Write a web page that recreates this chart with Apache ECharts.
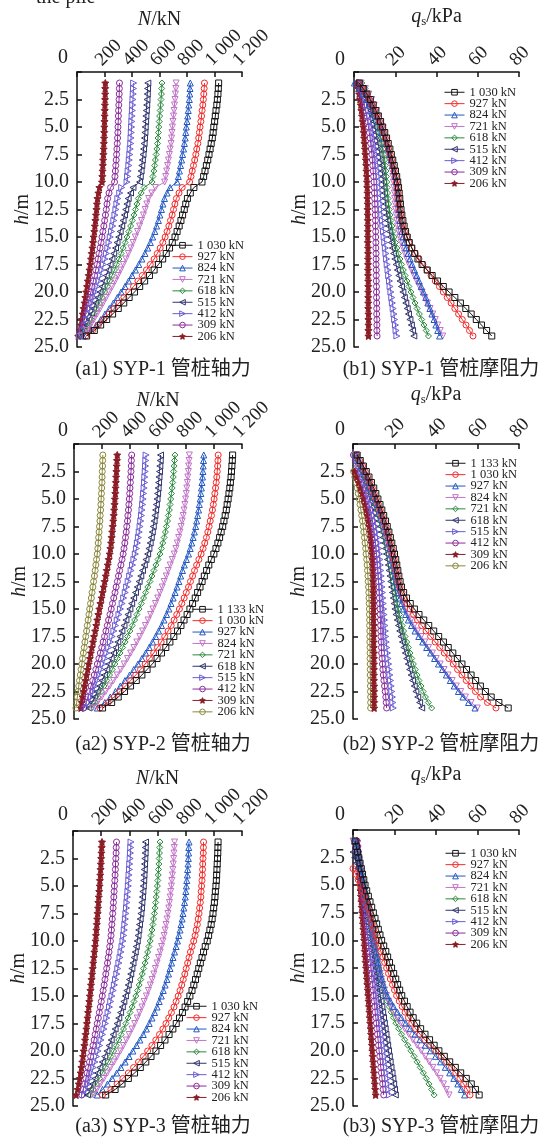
<!DOCTYPE html>
<html><head><meta charset="utf-8">
<script src="https://cdn.jsdelivr.net/npm/echarts@6/dist/echarts.min.js"></script>
<style>html,body{margin:0;padding:0;background:#fff}#c{width:560px;height:1139px}</style>
</head><body><div id="c"></div>
<script>
// depth h (m)
const H = [1,1.5,2,2.5,3,3.5,4,4.5,5,5.5,6,6.5,7,7.5,8,8.5,9,9.5,10,10.5,11,11.5,12,12.5,13,13.5,14,14.5,15,15.5,16,16.5,17,17.5,18,18.5,19,19.5,20,20.5,21,21.5,22,22.5,23,23.5,24];

// ---- axial force N (kN) ----
const A1_1030 = [1030,1028,1025,1021,1017,1011,1006,1001,995,990,984,976,968,960,951,941,931,921,909,850,824,803,791,780,768,756,743,728,713,693,673,649,623,592,561,527,492,456,418,379,340,300,259,216,172,126,70];
const A1_927 = [927,925,922,919,915,910,906,901,895,890,885,879,871,864,856,847,838,829,819,765,742,723,712,702,692,680,668,655,641,624,605,584,561,533,505,475,443,411,376,341,306,270,233,195,155,113,63];
const A1_824 = [824,822,820,817,813,809,805,800,795,791,787,781,775,768,761,753,745,737,728,677,655,636,625,614,603,592,579,566,550,533,514,494,472,449,425,400,375,349,321,293,265,235,204,173,140,103,45];
const A1_721 = [721,719,716,713,709,706,702,698,694,691,688,684,678,672,665,659,652,645,637,570,544,521,508,496,483,469,455,440,424,408,392,374,356,337,318,298,278,257,235,213,191,169,146,123,100,72,32];
const A1_618 = [618,616,614,611,608,605,601,598,595,592,589,586,581,576,570,565,559,552,546,488,467,446,436,425,414,402,390,377,363,350,336,321,305,289,273,255,238,220,201,183,164,145,125,106,85,62,28];
const A1_515 = [515,513,511,509,507,504,501,499,496,494,491,488,484,480,475,471,466,460,455,407,389,372,363,354,345,335,325,314,303,291,280,267,254,241,227,213,198,183,168,152,136,121,105,88,71,52,23];
const A1_412 = [412,411,409,407,405,403,401,399,397,395,393,391,387,384,380,377,372,368,364,325,311,297,290,283,276,268,260,251,242,233,224,214,204,193,182,170,159,147,134,122,109,96,84,70,57,41,18];
const A1_309 = [309,308,307,306,304,302,301,300,298,297,295,293,290,288,285,282,279,276,273,244,233,223,218,213,207,201,195,188,182,175,168,160,153,145,136,128,119,110,101,91,82,72,63,53,43,31,14];
const A1_206 = [206,205,205,204,203,202,201,200,199,198,197,195,194,192,190,188,186,184,182,163,156,149,145,142,138,134,130,126,121,117,112,107,102,96,91,85,79,73,67,61,55,48,42,35,28,21,9];

const A2_1133 = [1133,1131,1128,1125,1122,1117,1113,1107,1101,1094,1088,1080,1071,1062,1051,1040,1028,1014,999,981,963,947,931,915,900,883,866,847,828,808,786,764,739,713,685,656,625,593,559,522,485,445,404,361,316,269,204];
const A2_1030 = [1030,1028,1026,1023,1020,1016,1011,1006,1001,995,989,982,973,965,956,946,934,922,908,892,876,861,847,832,818,802,787,770,753,734,715,694,672,648,623,596,569,539,508,475,441,405,368,329,287,244,185];
const A2_927 = [927,925,923,921,918,914,910,906,901,895,890,883,876,869,860,851,841,830,818,803,788,775,762,749,736,722,708,693,678,661,643,625,604,583,561,537,512,485,457,427,397,364,331,296,259,220,167];
const A2_824 = [824,822,819,817,813,810,806,802,797,792,786,780,773,765,757,748,738,728,716,702,687,673,659,644,630,614,598,582,564,547,529,510,490,470,449,428,405,382,358,334,308,282,255,227,198,168,132];
const A2_721 = [721,718,715,712,709,705,701,696,691,686,681,674,668,660,653,644,634,624,614,600,585,571,557,542,527,512,497,481,465,449,433,416,399,382,365,347,329,311,292,273,254,234,214,194,173,152,123];
const A2_618 = [618,616,613,611,607,604,601,597,593,588,583,578,572,566,559,552,544,535,526,514,502,489,477,465,452,439,426,412,399,385,371,357,342,328,313,297,282,266,250,234,218,201,184,166,148,130,105];
const A2_515 = [515,513,511,509,506,504,501,497,494,490,486,482,477,472,466,460,453,446,438,428,418,408,398,387,376,366,355,344,332,321,309,297,285,273,261,248,235,222,209,195,181,167,153,139,124,109,88];
const A2_412 = [412,410,409,407,405,403,400,398,395,392,389,385,382,377,373,368,363,357,351,343,335,326,318,310,301,293,284,275,266,257,247,238,228,218,208,198,188,178,167,156,145,134,122,111,99,87,70];
const A2_309 = [309,307,305,303,301,299,297,295,292,290,287,284,281,277,273,269,265,260,255,248,241,234,227,219,212,204,197,189,181,174,166,159,151,143,136,128,120,113,105,98,90,83,76,69,62,56,50];
const A2_206 = [206,205,204,202,201,200,198,196,194,192,190,187,185,182,179,176,173,170,166,161,156,151,146,140,135,129,124,118,112,107,101,95,90,84,78,73,67,61,56,50,45,39,34,29,24,19,14];

const A3_1030 = [1030,1029,1028,1026,1024,1022,1020,1018,1015,1011,1008,1004,999,994,988,981,972,963,953,939,927,916,904,893,882,870,858,845,830,814,796,777,756,733,709,682,653,622,589,554,517,478,437,393,348,299,232];
const A3_927 = [927,926,925,923,921,920,918,916,913,910,908,904,899,895,889,883,875,867,857,845,834,824,814,804,794,783,772,760,747,732,717,699,680,660,638,614,588,560,530,499,465,430,393,354,313,269,209];
const A3_824 = [824,822,821,819,817,814,812,808,805,801,797,792,787,781,775,767,760,751,742,732,721,710,700,689,678,667,654,641,627,612,597,579,561,541,521,499,475,451,425,398,370,340,310,278,245,210,173];
const A3_721 = [721,719,717,715,712,709,706,702,699,694,690,685,680,674,668,661,654,647,639,629,619,608,597,585,574,562,549,535,521,505,490,473,456,438,419,399,379,358,337,314,291,267,244,219,195,170,144];
const A3_618 = [618,616,614,612,610,607,605,602,599,595,591,587,583,578,572,567,561,554,548,539,530,521,512,502,492,481,470,459,446,433,420,405,391,375,359,342,325,307,289,269,250,229,209,188,167,146,124];
const A3_515 = [515,513,512,510,508,506,504,502,499,496,493,489,486,482,477,472,467,462,456,449,442,434,426,418,410,401,392,382,372,361,350,338,325,313,299,285,271,256,241,225,208,191,174,157,139,122,103];
const A3_412 = [412,410,408,406,403,401,398,396,393,390,386,383,380,376,372,368,364,360,355,348,341,334,326,318,311,302,294,286,277,268,259,249,240,230,220,210,199,189,178,167,156,144,133,121,109,96,82];
const A3_309 = [309,307,306,304,302,301,299,297,294,292,290,287,285,282,279,276,273,270,266,261,256,250,245,239,233,227,221,214,208,201,194,187,180,172,165,157,150,142,133,125,117,108,99,91,82,72,62];
const A3_206 = [206,204,202,200,198,196,194,191,189,186,183,180,178,175,172,169,166,163,160,156,152,148,144,140,136,132,128,124,120,116,112,107,103,99,95,90,86,81,76,71,66,60,54,48,41,33,22];

// ---- skin friction qs (kPa) ----
const B1_1030 = [2.5,4.5,6.3,7.9,9.3,10.6,11.8,12.9,13.9,14.9,15.8,16.6,17.4,18.1,18.8,19.5,20.1,20.7,21.2,21.6,21.9,22.2,22.5,22.8,23.2,23.7,24.3,25.0,25.8,26.8,28.0,29.4,31.0,33.0,35.5,37.9,40.5,43.3,46.1,48.9,51.6,54.2,56.8,59.3,61.8,64.3,66.8];
const B1_927 = [2.2,4.1,5.8,7.3,8.7,10.0,11.2,12.3,13.3,14.3,15.2,16.0,16.8,17.5,18.2,18.9,19.5,20.1,20.6,21.0,21.3,21.6,21.9,22.2,22.6,23.1,23.7,24.5,25.5,26.7,28.1,29.7,31.5,33.4,35.4,37.4,39.4,41.4,43.3,45.2,47.1,48.9,50.7,52.5,54.3,56.0,57.7];
const B1_824 = [0.2,2.5,4.4,6.1,7.6,9.0,10.2,11.4,12.5,13.5,14.5,15.4,16.3,17.1,17.9,18.6,19.3,19.9,20.5,20.9,21.2,21.4,21.6,21.8,22.0,22.3,22.7,23.2,23.8,24.5,25.3,26.2,27.2,28.2,29.3,30.4,31.5,32.6,33.7,34.8,35.8,36.8,37.8,38.8,39.7,40.6,41.5];
const B1_721 = [3.5,5.5,7.2,8.6,9.8,10.9,11.9,12.8,13.6,14.4,15.1,15.8,16.4,17.0,17.5,18.0,18.4,18.8,19.1,19.3,19.5,19.7,19.9,20.1,20.4,20.7,21.1,21.6,22.2,22.9,23.7,24.6,25.6,26.7,27.9,29.1,30.4,31.7,33.0,34.3,35.6,36.9,38.2,39.4,40.6,41.8,43.0];
const B1_618 = [3.8,5.4,6.7,7.8,8.8,9.7,10.5,11.2,11.9,12.5,13.1,13.6,14.1,14.5,14.9,15.2,15.5,15.7,15.9,16.1,16.3,16.5,16.8,17.1,17.5,17.9,18.4,18.9,19.5,20.1,20.8,21.5,22.3,23.1,23.9,24.8,25.7,26.6,27.6,28.6,29.6,30.6,31.7,32.8,33.9,35.0,36.1];
const B1_515 = [2.8,4.2,5.4,6.4,7.3,8.1,8.8,9.5,10.1,10.7,11.2,11.7,12.2,12.6,13.0,13.4,13.7,14.0,14.3,14.5,14.8,15.0,15.3,15.6,15.9,16.3,16.7,17.1,17.6,18.1,18.6,19.2,19.8,20.4,21.0,21.7,22.3,23.0,23.7,24.4,25.1,25.8,26.4,27.1,27.8,28.4,29.0];
const B1_412 = [2.5,3.7,4.7,5.6,6.4,7.1,7.7,8.3,8.8,9.3,9.7,10.1,10.5,10.9,11.2,11.5,11.8,12.1,12.3,12.5,12.7,12.9,13.1,13.3,13.5,13.8,14.0,14.3,14.6,14.9,15.2,15.5,15.8,16.1,16.5,16.8,17.2,17.5,17.9,18.3,18.6,19.0,19.4,19.7,20.1,20.4,20.8];
const B1_309 = [2.0,2.9,3.7,4.4,5.0,5.6,6.1,6.6,7.0,7.4,7.8,8.1,8.4,8.7,8.9,9.1,9.3,9.5,9.7,9.8,9.9,10.0,10.1,10.2,10.3,10.4,10.4,10.5,10.5,10.6,10.6,10.7,10.7,10.7,10.8,10.8,10.8,10.9,10.9,10.9,11.0,11.0,11.0,11.1,11.1,11.1,11.2];
const B1_206 = [1.5,2.0,2.5,2.9,3.3,3.6,3.9,4.2,4.5,4.7,4.9,5.1,5.3,5.5,5.7,5.9,6.0,6.2,6.3,6.4,6.5,6.5,6.6,6.6,6.6,6.7,6.7,6.7,6.7,6.7,6.8,6.8,6.8,6.8,6.8,6.8,6.9,6.9,6.9,6.9,6.9,6.9,7.0,7.0,7.0,7.0,7.0];

const B2_1133 = [2.0,3.5,5.0,6.4,7.7,8.9,10.0,11.0,12.0,13.0,13.9,14.8,15.7,16.5,17.3,18.0,18.7,19.4,20.0,20.6,21.1,21.6,22.1,22.7,23.4,24.4,25.8,27.6,29.6,31.8,34.1,36.5,38.9,41.3,43.6,45.9,48.1,50.3,52.5,54.7,56.9,59.1,61.4,63.8,66.6,70.3,74.8];
const B2_1030 = [1.8,3.2,4.6,5.9,7.1,8.2,9.3,10.3,11.3,12.3,13.2,14.1,15.0,15.8,16.6,17.3,18.0,18.7,19.3,19.9,20.4,20.9,21.4,22.0,22.7,23.6,24.7,26.0,27.5,29.2,31.1,33.1,35.2,37.4,39.6,41.8,44.0,46.2,48.3,50.4,52.5,54.6,56.8,59.0,61.5,64.8,68.9];
const B2_927 = [1.5,2.8,4.1,5.3,6.5,7.6,8.7,9.7,10.7,11.7,12.6,13.5,14.3,15.1,15.9,16.6,17.3,17.9,18.5,19.0,19.5,19.9,20.3,20.8,21.3,21.9,22.6,23.4,24.3,25.4,26.7,28.2,29.9,31.7,33.6,35.5,37.4,39.3,41.2,43.1,45.0,46.9,48.8,50.8,53.0,55.7,58.8];
const B2_824 = [1.3,2.6,3.9,5.1,6.2,7.3,8.3,9.3,10.3,11.2,12.1,12.9,13.7,14.5,15.2,15.9,16.6,17.2,17.8,18.4,19.0,19.6,20.2,20.9,21.6,22.4,23.3,24.3,25.4,26.6,28.0,29.5,31.1,32.8,34.6,36.4,38.3,40.1,42.0,43.9,45.8,47.8,49.8,51.9,54.2,56.9,59.9];
const B2_721 = [1.2,2.4,3.6,4.7,5.8,6.9,7.9,8.9,9.8,10.7,11.6,12.4,13.2,14.0,14.7,15.4,16.0,16.6,17.2,17.7,18.2,18.7,19.1,19.5,19.9,20.3,20.8,21.3,21.8,22.4,23.0,23.7,24.4,25.1,25.9,26.7,27.5,28.3,29.1,30.0,30.9,31.8,32.8,33.8,34.9,36.3,37.9];
const B2_618 = [1.1,2.2,3.3,4.4,5.4,6.4,7.4,8.3,9.2,10.1,10.9,11.7,12.5,13.2,13.9,14.5,15.1,15.6,16.1,16.6,17.0,17.4,17.8,18.2,18.6,19.0,19.4,19.8,20.2,20.7,21.3,21.9,22.5,23.1,23.8,24.5,25.2,25.9,26.6,27.3,28.0,28.7,29.5,30.3,31.2,32.1,33.1];
const B2_515 = [1.0,2.0,3.0,4.0,4.9,5.8,6.6,7.4,8.1,8.8,9.4,10.0,10.5,11.0,11.4,11.8,12.2,12.5,12.8,13.0,13.2,13.4,13.6,13.8,14.0,14.2,14.4,14.6,14.8,15.0,15.2,15.4,15.6,15.8,16.0,16.3,16.6,16.9,17.2,17.5,17.8,18.1,18.4,18.7,19.0,19.2,19.4];
const B2_412 = [0.2,1.3,2.3,3.3,4.2,5.0,5.8,6.5,7.2,7.8,8.4,8.9,9.4,9.8,10.2,10.5,10.8,11.1,11.3,11.5,11.7,11.9,12.1,12.3,12.5,12.6,12.7,12.8,13.0,13.1,13.2,13.3,13.4,13.5,13.6,13.7,13.8,14.0,14.2,14.4,14.6,14.9,15.2,15.5,15.8,16.0,16.2];
const B2_309 = [null,null,null,0.8,1.8,2.7,3.6,4.4,5.1,5.8,6.4,6.9,7.4,7.8,8.2,8.5,8.8,9.0,9.2,9.4,9.5,9.6,9.7,9.7,9.8,9.8,9.8,9.9,9.9,9.9,9.9,10.0,10.0,10.0,10.0,10.0,10.1,10.1,10.1,10.1,10.1,10.1,10.2,10.2,10.2,10.2,10.2];
const B2_206 = [null,null,null,0.3,0.9,1.5,2.0,2.5,3.0,3.4,3.8,4.2,4.6,4.9,5.2,5.5,5.8,6.1,6.3,6.6,6.8,7.0,7.2,7.3,7.5,7.6,7.7,7.8,7.9,7.9,8.0,8.0,8.1,8.1,8.1,8.2,8.2,8.2,8.3,8.3,8.3,8.4,8.4,8.4,8.5,8.5,8.5];

const B3_1030 = [1.0,1.6,2.2,2.8,3.4,4.0,4.6,5.2,5.8,6.6,7.4,8.2,9.0,9.8,10.6,11.4,12.2,13.0,13.8,14.8,15.8,16.7,17.6,18.6,19.6,20.6,21.5,22.5,23.5,24.8,26.1,27.5,29.0,30.7,32.6,34.7,36.9,39.1,41.4,44.0,46.6,49.3,51.9,54.6,57.0,59.0,60.8];
const B3_927 = [null,null,null,null,null,0.0,1.3,2.5,3.6,4.6,5.5,6.3,7.1,7.9,8.6,9.3,10.0,10.7,11.4,12.4,13.4,14.4,15.3,16.2,17.1,18.0,19.0,20.0,21.0,22.3,23.7,25.1,26.7,28.3,30.2,32.3,34.6,37.4,40.0,42.6,45.1,47.5,49.5,51.5,53.3,55.0,56.4];
const B3_824 = [0.8,1.4,2.0,2.5,3.1,3.6,4.1,4.6,5.2,5.7,6.2,6.7,7.2,7.7,8.2,8.7,9.2,9.6,10.1,10.6,11.1,11.6,12.1,12.6,13.2,13.9,14.6,15.5,16.5,18.0,19.6,21.4,23.3,25.4,27.6,29.9,32.3,34.8,37.3,39.8,42.2,44.5,46.6,48.6,50.5,52.2,53.8];
const B3_721 = [0.0,0.8,1.5,2.2,2.9,3.5,4.1,4.7,5.3,5.8,6.3,6.8,7.3,7.8,8.3,8.8,9.2,9.7,10.1,10.6,11.0,11.5,12.0,12.5,13.1,13.7,14.4,15.2,16.1,17.1,18.2,19.6,21.2,23.0,24.9,26.9,28.9,30.9,32.9,34.8,36.7,38.5,40.3,42.0,43.6,45.0,46.3];
const B3_618 = [0.5,1.2,1.9,2.6,3.2,3.8,4.4,5.0,5.5,6.0,6.5,7.0,7.5,8.0,8.5,8.9,9.4,9.8,10.3,10.7,11.2,11.6,12.1,12.6,13.1,13.7,14.3,15.0,15.7,16.5,17.4,18.4,19.5,20.7,22.0,23.4,24.9,26.4,27.9,29.4,30.9,32.4,33.9,35.3,36.6,37.9,39.1];
const B3_515 = [null,null,0.0,0.8,1.5,2.2,2.9,3.5,4.1,4.7,5.3,5.8,6.3,6.8,7.3,7.8,8.2,8.7,9.1,9.5,9.9,10.3,10.7,11.1,11.5,11.9,12.3,12.7,13.1,13.5,13.9,14.3,14.7,15.1,15.5,15.9,16.3,16.7,17.1,17.5,17.9,18.3,18.8,19.2,19.6,20.0,20.4];
const B3_412 = [1.2,1.7,2.2,2.7,3.2,3.7,4.1,4.6,5.0,5.4,5.8,6.2,6.6,7.0,7.4,7.8,8.1,8.5,8.9,9.2,9.6,9.9,10.3,10.6,10.9,11.3,11.6,11.9,12.2,12.5,12.8,13.1,13.4,13.7,14.0,14.3,14.6,14.9,15.2,15.5,15.8,16.1,16.4,16.7,17.0,17.3,17.6];
const B3_309 = [2.0,2.3,2.6,2.9,3.2,3.5,3.8,4.1,4.4,4.7,5.0,5.3,5.6,5.9,6.2,6.4,6.7,7.0,7.3,7.5,7.8,8.1,8.3,8.6,8.9,9.1,9.4,9.7,9.9,10.2,10.5,10.7,11.0,11.3,11.5,11.8,12.1,12.3,12.6,12.9,13.2,13.4,13.7,14.0,14.3,14.5,14.8];
const B3_206 = [1.8,2.1,2.3,2.5,2.7,2.9,3.1,3.2,3.4,3.6,3.8,4.0,4.2,4.4,4.6,4.8,5.0,5.2,5.4,5.5,5.7,5.9,6.1,6.3,6.5,6.7,6.9,7.1,7.3,7.5,7.7,7.9,8.1,8.3,8.5,8.7,8.9,9.1,9.3,9.5,9.7,9.9,10.1,10.3,10.5,10.7,10.9];

// legend labels
const LOADS9 = ['1 030 kN','927 kN','824 kN','721 kN','618 kN','515 kN','412 kN','309 kN','206 kN'];
const LOADS10 = ['1 133 kN','1 030 kN','927 kN','824 kN','721 kN','618 kN','515 kN','412 kN','309 kN','206 kN'];
// axis tick labels
const N_TICKS = [0,200,400,600,800,1000,1200];
const Q_TICKS = [0,20,40,60,80];
const H_TICKS = [0,2.5,5,7.5,10,12.5,15,17.5,20,22.5,25];
const CAPTIONS = ['(a1) SYP-1 管桩轴力','(b1) SYP-1 管桩摩阻力','(a2) SYP-2 管桩轴力','(b2) SYP-2 管桩摩阻力','(a3) SYP-3 管桩轴力','(b3) SYP-3 管桩摩阻力'];

const FONT = "'Liberation Serif','Times New Roman','Noto Sans CJK SC',serif";
const STAR = 'path://M0,-10L2.9,-4L9.5,-3.1L4.7,1.5L5.9,8.1L0,5L-5.9,8.1L-4.7,1.5L-9.5,-3.1L-2.9,-4Z';
const ST = {
  sq:  {symbol:'rect', c:'#151515'},
  ciR: {symbol:'circle', c:'#f42a2a'},
  tri: {symbol:'triangle', c:'#2358c4'},
  dtri:{symbol:'triangle', rot:180, c:'#c274c8'},
  dia: {symbol:'diamond', c:'#2b8a3e'},
  ltri:{symbol:'triangle', rot:90, c:'#30346e'},
  rtri:{symbol:'triangle', rot:-90, c:'#6a5cd2'},
  ciP: {symbol:'circle', c:'#8c2c9c'},
  star:{symbol:STAR, c:'#8b1c26', fill:true},
  ciO: {symbol:'circle', c:'#8a883a'}
};
const S9 = ['sq','ciR','tri','dtri','dia','ltri','rtri','ciP','star'];
const S10 = ['sq','ciR','tri','dtri','dia','ltri','rtri','ciP','star','ciO'];

const PANELS = [
  {id:'a1', kind:'N', grid:{left:77,top:72,width:165,height:275}, names:LOADS9, sty:S9, legend:{left:172,top:239}, nameGap:42,
   vals:[A1_1030,A1_927,A1_824,A1_721,A1_618,A1_515,A1_412,A1_309,A1_206], zero:[63,58], cap:[163,370]},
  {id:'b1', kind:'Q', grid:{left:354,top:72,width:165,height:275}, names:LOADS9, sty:S9, legend:{left:444,top:86}, nameGap:44,
   vals:[B1_1030,B1_927,B1_824,B1_721,B1_618,B1_515,B1_412,B1_309,B1_206], zero:[340,60], cap:[441,370]},
  {id:'a2', kind:'N', grid:{left:74,top:444,width:168,height:275}, names:LOADS10, sty:S10, legend:{left:192,top:603}, nameGap:33,
   vals:[A2_1133,A2_1030,A2_927,A2_824,A2_721,A2_618,A2_515,A2_412,A2_309,A2_206], zero:[63,431], cap:[163,745]},
  {id:'b2', kind:'Q', grid:{left:353,top:444,width:166,height:275}, names:LOADS10, sty:S10, legend:{left:445,top:457}, nameGap:38,
   vals:[B2_1133,B2_1030,B2_927,B2_824,B2_721,B2_618,B2_515,B2_412,B2_309,B2_206], zero:[340,430], cap:[441,745]},
  {id:'a3', kind:'N', grid:{left:73,top:831,width:169,height:275}, names:LOADS9, sty:S9, legend:{left:186,top:1000}, nameGap:42,
   vals:[A3_1030,A3_927,A3_824,A3_721,A3_618,A3_515,A3_412,A3_309,A3_206], zero:[63,815], cap:[163,1127]},
  {id:'b3', kind:'Q', grid:{left:353,top:830,width:166,height:276}, names:LOADS9, sty:S9, legend:{left:445,top:847}, nameGap:44,
   vals:[B3_1030,B3_927,B3_824,B3_721,B3_618,B3_515,B3_412,B3_309,B3_206], zero:[340,815], cap:[441,1127]}
];

const AX = {color:'#111', width:1.5};
function fmtN(v){ if(v===0) return ''; return v>=1000 ? '1 '+String(v).slice(1) : String(v); }

const grids=[], xAxes=[], yAxes=[], series=[], legends=[], graphics=[];
PANELS.forEach((p,k)=>{
  grids.push(Object.assign({containLabel:false, outerBoundsMode:'none'}, p.grid));
  const isN = p.kind==='N';
  const ticks = isN ? N_TICKS : Q_TICKS;
  xAxes.push({
    gridIndex:k, type:'value', position:'top', min:ticks[0], max:ticks[ticks.length-1], interval:ticks[1]-ticks[0],
    axisLine:{show:true,onZero:false,lineStyle:AX}, axisTick:{show:true,inside:true,length:5,lineStyle:AX},
    splitLine:{show:false},
    axisLabel:{rotate:-45, align:'left', verticalAlign:'bottom', margin:3, lineHeight:17, showMinLabel:true, showMaxLabel:true, hideOverlap:false,
      fontSize:19, fontFamily:FONT, color:'#222', formatter: isN? fmtN : (v=>v===0?'':String(v))},
    name: isN ? '{i|N}/kN' : '{i|q}{s|s}/kPa', nameLocation:'middle', nameGap:p.nameGap, nameMoveOverlap:false,
    nameTextStyle:{fontSize:20, fontFamily:FONT, color:'#222',
      rich:{i:{fontStyle:'italic',fontSize:20,fontFamily:FONT,color:'#222'}, s:{fontSize:13,fontFamily:FONT,color:'#222',padding:[9,0,0,0]}}}
  });
  yAxes.push({
    gridIndex:k, type:'value', inverse:true, min:H_TICKS[0], max:H_TICKS[H_TICKS.length-1], interval:H_TICKS[1]-H_TICKS[0],
    axisLine:{show:true,onZero:false,lineStyle:AX}, axisTick:{show:true,inside:true,length:5,lineStyle:AX},
    splitLine:{show:false},
    axisLabel:{margin:8, fontSize:20, fontFamily:FONT, color:'#222', showMaxLabel:true, formatter:v=>v===0?'':v.toFixed(1)},
    name:'{i|h}/m', nameLocation:'middle', nameGap:44, nameMoveOverlap:false,
    nameTextStyle:{fontSize:20, fontFamily:FONT, color:'#222', rich:{i:{fontStyle:'italic',fontSize:20,fontFamily:FONT,color:'#222'}}}
  });
  p.names.forEach((nm,j)=>{
    const s = ST[p.sty[j]];
    const vals = p.vals[j];
    series.push({
      type:'line', name:p.id+'|'+nm, xAxisIndex:k, yAxisIndex:k,
      data: H.map((h,i)=>[vals[i],h]).filter(d=>d[0]!==null),
      symbol:s.symbol, symbolSize: s.symbol===STAR?7:6, symbolRotate:s.rot||0, showSymbol:true,
      lineStyle:{color:s.c,width:1},
      itemStyle:{color: s.fill? s.c : 'rgba(255,255,255,0)', borderColor:s.c, borderWidth:1},
      emphasis:{disabled:true}, silent:true, animation:false, z: 2+(p.names.length-j)
    });
  });
  legends.push({
    orient:'vertical', left:p.legend.left, top:p.legend.top, padding:0, itemGap:-1.1, itemWidth:20, itemHeight:7,
    selectedMode:false,
    data:p.names.map((n,j)=>{ const s=ST[p.sty[j]]; return {name:p.id+'|'+n,
      itemStyle:{color: s.fill? s.c : 'rgba(255,255,255,0)', borderColor:s.c, borderWidth:1},
      lineStyle:{color:s.c, width:1}}; }),
    formatter:n=>n.split('|')[1],
    textStyle:{fontFamily:FONT, fontSize:12.5, color:'#222', lineHeight:11.5, padding:[0,0,0,0]}
  });
  graphics.push({type:'text', x:p.zero[0], y:p.zero[1], style:{text:'0', font:'20px '+FONT, fill:'#222', align:'center', verticalAlign:'middle'}});
  graphics.push({type:'text', x:p.cap[0], y:p.cap[1], style:{text:CAPTIONS[k], font:'20px '+FONT, fill:'#222', align:'center', verticalAlign:'middle'}});
});
graphics.push({type:'text', x:36, y:-2, style:{text:'the pile', font:'20px '+FONT, fill:'#222', align:'left', verticalAlign:'middle'}});

const chart = echarts.init(document.getElementById('c'), null, {renderer:'canvas'});
chart.setOption({
  backgroundColor:'#fff', animation:false,
  grid:grids, xAxis:xAxes, yAxis:yAxes, series:series, legend:legends, graphic:graphics
});
</script></body></html>
